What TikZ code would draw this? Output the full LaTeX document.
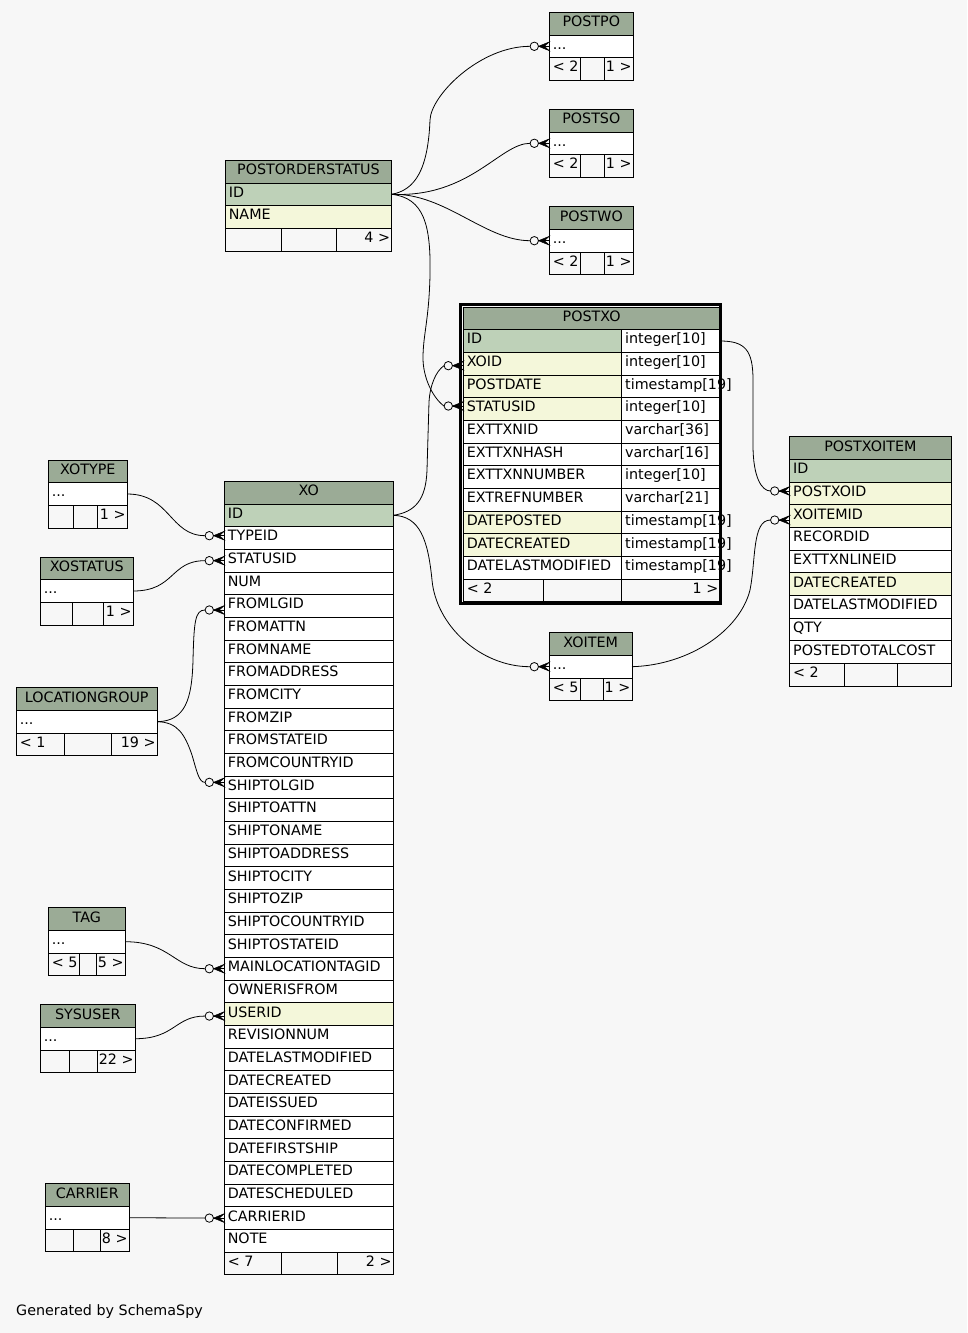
\documentclass[tikz,border=0pt]{standalone}
\usepackage{fontspec}
\setmainfont{DejaVu Sans}
\definecolor{bgc}{HTML}{F7F7F7}
\definecolor{hdrc}{HTML}{9BAB96}
\definecolor{pkc}{HTML}{BED1B8}
\definecolor{idxc}{HTML}{F4F7DA}
\def\rh{22.67}
\newcommand\thead[5]{% name L R T text
  \filldraw[cellline,fill=hdrc] (#2,#4) rectangle (#3,{#4+\rh});
  \node[hdrtext] (#1) at ({(#2+#3)/2},{#4+14.3}) {#5};
}
\newcommand\trow[7]{% name L R T0 idx fill text
  \pgfmathsetmacro\myrt{#4+#5*\rh}
  \filldraw[cellline,fill=#6] (#2,\myrt) rectangle (#3,{\myrt+\rh});
  \node[celltext] (#1) at (#2,{\myrt+14.3}) {#7};
  \coordinate (#1-w) at (#2,{\myrt+\rh/2});
  \coordinate (#1-e) at (#3,{\myrt+\rh/2});
  \coordinate (#1-c) at ({#2-19.3},{\myrt+\rh/2});
}
\newcommand\trowt[9]{% name L D R T0 idx fill col type
  \pgfmathsetmacro\myrt{#5+#6*\rh}
  \filldraw[cellline,fill=#7] (#2,\myrt) rectangle (#3,{\myrt+\rh});
  \filldraw[cellline,fill=white] (#3,\myrt) rectangle (#4,{\myrt+\rh});
  \node[celltext] (#1) at (#2,{\myrt+14.3}) {#8};
  \node[celltext] (#1-t) at (#3,{\myrt+14.3}) {#9};
  \coordinate (#1-w) at (#2,{\myrt+\rh/2});
  \coordinate (#1-e) at (#4,{\myrt+\rh/2});
  \coordinate (#1-c) at ({#2-19.3},{\myrt+\rh/2});
}
\newcommand\tfoot[9]{% name L R T0 idx d1 d2 ltext rtext
  \pgfmathsetmacro\myrt{#4+#5*\rh}
  \filldraw[cellline,fill=bgc] (#2,\myrt) rectangle (#3,{\myrt+\rh});
  \draw[cellline] (#6,\myrt) -- (#6,{\myrt+\rh}) (#7,\myrt) -- (#7,{\myrt+\rh});
  \node[celltext] (#1-l) at (#2,{\myrt+14.3}) {#8};
  \node[celltextr] (#1-r) at (#3,{\myrt+14.3}) {#9};
}
\tikzset{
  cellline/.style={draw=black,line width=0.9pt},
  hdrtext/.style={anchor=base,inner sep=0pt},
  celltext/.style={anchor=base west,inner sep=0pt,xshift=3.3pt},
  celltextr/.style={anchor=base east,inner sep=0pt,xshift=-1.5pt},
  rel/.style={draw=black,line width=0.8pt},
  crowodot/.pic={
    \draw[rel] (-15,0) circle[radius=4.2];
    \filldraw[rel,line width=0.5pt] (-10.8,0) -- (0,-4.4) -- (-5,0) -- (0,4.4) -- cycle;
    \draw[rel] (-10.8,0) -- (0,0);
  }
}
\begin{document}
\begin{tikzpicture}[x=1pt,y=-1pt,font=\fontsize{14.3}{17}\selectfont]
\fill[bgc] (0,0) rectangle (967,1333);
\useasboundingbox (0,0) rectangle (967,1333);

% POSTPO
\thead{postpo}{549.3}{633.3}{12.3}{POSTPO}
\trow{postpo-r}{549.3}{633.3}{12.3}{1}{white}{...}
\tfoot{postpo-f}{549.3}{633.3}{12.3}{2}{580}{604}{< 2}{1 >}
% POSTSO
\thead{postso}{549.3}{633.3}{109.3}{POSTSO}
\trow{postso-r}{549.3}{633.3}{109.3}{1}{white}{...}
\tfoot{postso-f}{549.3}{633.3}{109.3}{2}{580}{604}{< 2}{1 >}
% POSTWO
\thead{postwo}{549.3}{633.3}{206.7}{POSTWO}
\trow{postwo-r}{549.3}{633.3}{206.7}{1}{white}{...}
\tfoot{postwo-f}{549.3}{633.3}{206.7}{2}{580}{604}{< 2}{1 >}
% POSTORDERSTATUS
\thead{pos}{225.3}{391.7}{160.3}{POSTORDERSTATUS}
\trow{pos-id}{225.3}{391.7}{160.3}{1}{pkc}{ID}
\trow{pos-name}{225.3}{391.7}{160.3}{2}{idxc}{NAME}
\tfoot{pos-f}{225.3}{391.7}{160.3}{3}{281.7}{336}{}{4 >}
% XOITEM
\thead{xoitem}{549.3}{632}{632.7}{XOITEM}
\trow{xoitem-r}{549.3}{632}{632.7}{1}{white}{...}
\tfoot{xoitem-f}{549.3}{632}{632.7}{2}{580}{603}{< 5}{1 >}
% POSTXOITEM
\thead{pxi}{789.7}{951}{436.7}{POSTXOITEM}
\trow{pxi-id}{789.7}{951}{436.7}{1}{pkc}{ID}
\trow{pxi-postxoid}{789.7}{951}{436.7}{2}{idxc}{POSTXOID}
\trow{pxi-xoitemid}{789.7}{951}{436.7}{3}{idxc}{XOITEMID}
\trow{pxi-recordid}{789.7}{951}{436.7}{4}{white}{RECORDID}
\trow{pxi-exttxnlineid}{789.7}{951}{436.7}{5}{white}{EXTTXNLINEID}
\trow{pxi-datecreated}{789.7}{951}{436.7}{6}{idxc}{DATECREATED}
\trow{pxi-datelastmodified}{789.7}{951}{436.7}{7}{white}{DATELASTMODIFIED}
\trow{pxi-qty}{789.7}{951}{436.7}{8}{white}{QTY}
\trow{pxi-postedtotalcost}{789.7}{951}{436.7}{9}{white}{POSTEDTOTALCOST}
\tfoot{pxi-f}{789.7}{951}{436.7}{10}{844}{897.7}{< 2}{}
% XO
\thead{xo}{224.3}{393.3}{481.3}{XO}
\trow{xo-id}{224.3}{393.3}{481.3}{1}{pkc}{ID}
\trow{xo-typeid}{224.3}{393.3}{481.3}{2}{white}{TYPEID}
\trow{xo-statusid}{224.3}{393.3}{481.3}{3}{white}{STATUSID}
\trow{xo-num}{224.3}{393.3}{481.3}{4}{white}{NUM}
\trow{xo-fromlgid}{224.3}{393.3}{481.3}{5}{white}{FROMLGID}
\trow{xo-fromattn}{224.3}{393.3}{481.3}{6}{white}{FROMATTN}
\trow{xo-fromname}{224.3}{393.3}{481.3}{7}{white}{FROMNAME}
\trow{xo-fromaddress}{224.3}{393.3}{481.3}{8}{white}{FROMADDRESS}
\trow{xo-fromcity}{224.3}{393.3}{481.3}{9}{white}{FROMCITY}
\trow{xo-fromzip}{224.3}{393.3}{481.3}{10}{white}{FROMZIP}
\trow{xo-fromstateid}{224.3}{393.3}{481.3}{11}{white}{FROMSTATEID}
\trow{xo-fromcountryid}{224.3}{393.3}{481.3}{12}{white}{FROMCOUNTRYID}
\trow{xo-shiptolgid}{224.3}{393.3}{481.3}{13}{white}{SHIPTOLGID}
\trow{xo-shiptoattn}{224.3}{393.3}{481.3}{14}{white}{SHIPTOATTN}
\trow{xo-shiptoname}{224.3}{393.3}{481.3}{15}{white}{SHIPTONAME}
\trow{xo-shiptoaddress}{224.3}{393.3}{481.3}{16}{white}{SHIPTOADDRESS}
\trow{xo-shiptocity}{224.3}{393.3}{481.3}{17}{white}{SHIPTOCITY}
\trow{xo-shiptozip}{224.3}{393.3}{481.3}{18}{white}{SHIPTOZIP}
\trow{xo-shiptocountryid}{224.3}{393.3}{481.3}{19}{white}{SHIPTOCOUNTRYID}
\trow{xo-shiptostateid}{224.3}{393.3}{481.3}{20}{white}{SHIPTOSTATEID}
\trow{xo-mainlocationtagid}{224.3}{393.3}{481.3}{21}{white}{MAINLOCATIONTAGID}
\trow{xo-ownerisfrom}{224.3}{393.3}{481.3}{22}{white}{OWNERISFROM}
\trow{xo-userid}{224.3}{393.3}{481.3}{23}{idxc}{USERID}
\trow{xo-revisionnum}{224.3}{393.3}{481.3}{24}{white}{REVISIONNUM}
\trow{xo-datelastmodified}{224.3}{393.3}{481.3}{25}{white}{DATELASTMODIFIED}
\trow{xo-datecreated}{224.3}{393.3}{481.3}{26}{white}{DATECREATED}
\trow{xo-dateissued}{224.3}{393.3}{481.3}{27}{white}{DATEISSUED}
\trow{xo-dateconfirmed}{224.3}{393.3}{481.3}{28}{white}{DATECONFIRMED}
\trow{xo-datefirstship}{224.3}{393.3}{481.3}{29}{white}{DATEFIRSTSHIP}
\trow{xo-datecompleted}{224.3}{393.3}{481.3}{30}{white}{DATECOMPLETED}
\trow{xo-datescheduled}{224.3}{393.3}{481.3}{31}{white}{DATESCHEDULED}
\trow{xo-carrierid}{224.3}{393.3}{481.3}{32}{white}{CARRIERID}
\trow{xo-note}{224.3}{393.3}{481.3}{33}{white}{NOTE}
\tfoot{xo-f}{224.3}{393.3}{481.3}{34}{281.7}{337.7}{< 7}{2 >}
% left tables
\thead{xotype}{48.3}{127.3}{460}{XOTYPE}
\trow{xotype-r}{48.3}{127.3}{460}{1}{white}{...}
\tfoot{xotype-f}{48.3}{127.3}{460}{2}{73.3}{97.3}{}{1 >}
\thead{xostatus}{40.3}{133.3}{557}{XOSTATUS}
\trow{xostatus-r}{40.3}{133.3}{557}{1}{white}{...}
\tfoot{xostatus-f}{40.3}{133.3}{557}{2}{72.3}{103.3}{}{1 >}
\thead{lg}{16.3}{157.3}{687.7}{LOCATIONGROUP}
\trow{lg-r}{16.3}{157.3}{687.7}{1}{white}{...}
\tfoot{lg-f}{16.3}{157.3}{687.7}{2}{64.3}{111.3}{< 1}{19 >}
\thead{tag}{48.3}{125.3}{907.7}{TAG}
\trow{tag-r}{48.3}{125.3}{907.7}{1}{white}{...}
\tfoot{tag-f}{48.3}{125.3}{907.7}{2}{79.3}{96.7}{< 5}{5 >}
\thead{sysuser}{40.3}{135.3}{1004.7}{SYSUSER}
\trow{sysuser-r}{40.3}{135.3}{1004.7}{1}{white}{...}
\tfoot{sysuser-f}{40.3}{135.3}{1004.7}{2}{69.3}{97.3}{}{22 >}
\thead{carrier}{45.3}{129.3}{1183.7}{CARRIER}
\trow{carrier-r}{45.3}{129.3}{1183.7}{1}{white}{...}
\tfoot{carrier-f}{45.3}{129.3}{1183.7}{2}{73.3}{100.3}{}{8 >}
% POSTXO (focused table)
\thead{postxo}{463.3}{720}{307}{POSTXO}
\trowt{postxo-id}{463.3}{621.7}{720}{307}{1}{pkc}{ID}{integer[10]}
\trowt{postxo-xoid}{463.3}{621.7}{720}{307}{2}{idxc}{XOID}{integer[10]}
\trowt{postxo-postdate}{463.3}{621.7}{720}{307}{3}{idxc}{POSTDATE}{timestamp[19]}
\trowt{postxo-statusid}{463.3}{621.7}{720}{307}{4}{idxc}{STATUSID}{integer[10]}
\trowt{postxo-exttxnid}{463.3}{621.7}{720}{307}{5}{white}{EXTTXNID}{varchar[36]}
\trowt{postxo-exttxnhash}{463.3}{621.7}{720}{307}{6}{white}{EXTTXNHASH}{varchar[16]}
\trowt{postxo-exttxnnumber}{463.3}{621.7}{720}{307}{7}{white}{EXTTXNNUMBER}{integer[10]}
\trowt{postxo-extrefnumber}{463.3}{621.7}{720}{307}{8}{white}{EXTREFNUMBER}{varchar[21]}
\trowt{postxo-dateposted}{463.3}{621.7}{720}{307}{9}{idxc}{DATEPOSTED}{timestamp[19]}
\trowt{postxo-datecreated}{463.3}{621.7}{720}{307}{10}{idxc}{DATECREATED}{timestamp[19]}
\trowt{postxo-datelastmodified}{463.3}{621.7}{720}{307}{11}{white}{DATELASTMODIFIED}{timestamp[19]}
\tfoot{postxo-f}{463.3}{720}{307}{12}{543}{621.7}{< 2}{1 >}
\draw[line width=3pt] (460.7,304.5) rectangle (720.8,603.5);

% relationships
\draw[rel] (pos-id-e) .. controls (415,190) and (428,170) .. (430,120) .. controls (431,95) and (480,46.3) .. (postpo-r-c);
\draw[rel] (pos-id-e) .. controls (470,198) and (500,143.3) .. (postso-r-c);
\draw[rel] (pos-id-e) .. controls (445,193) and (485,240.7) .. (postwo-r-c);
\draw[rel] (pos-id-e) .. controls (424,198) and (431,225) .. (430,275) .. controls (429,320) and (423,335) .. (423,358) .. controls (423,378) and (433,398) .. ([yshift=3pt]postxo-statusid-c);
\draw[rel] (xo-id-e) .. controls (415,512) and (426,500) .. (427,470) -- (429,402) .. controls (430,385) and (436,371) .. ([yshift=-2pt]postxo-xoid-c);
\draw[rel] (xo-id-e) .. controls (420,516) and (428,540) .. (432,580) .. controls (436,625) and (480,666.7) .. (xoitem-r-c);
\draw[rel] (postxo-id-e) .. controls (745,341) and (753,350) .. (753,380) -- (753,445) .. controls (753,478) and (762,491) .. ([yshift=2.4pt]pxi-postxoid-c);
\draw[rel] (xoitem-r-e) .. controls (690,665) and (740,630) .. (750,590) .. controls (756,560) and (752,520) .. ([yshift=-4pt]pxi-xoitemid-c);
\draw[rel] (xotype-r-e) .. controls (170,494) and (170,535.7) .. ([yshift=2.3pt]xo-typeid-c);
\draw[rel] (xostatus-r-e) .. controls (175,591) and (170,560.7) .. (xo-statusid-c);
\draw[rel] (lg-r-e) .. controls (185,721) and (192,700) .. (193,660) .. controls (194,622) and (195,610) .. ([yshift=-4pt]xo-fromlgid-c);
\draw[rel] (lg-r-e) .. controls (178,722) and (185,735) .. (192,755) .. controls (197,772) and (199,782.4) .. ([yshift=5pt]xo-shiptolgid-c);
\draw[rel] (tag-r-e) .. controls (170,941.7) and (175,968.7) .. (xo-mainlocationtagid-c);
\draw[rel] (sysuser-r-e) .. controls (175,1038.7) and (175,1016) .. ([yshift=-2pt]xo-userid-c);
\draw[rel] (carrier-r-e) -- (xo-carrierid-c);

% crow's foot with open circle at the child ends
\pic at (postpo-r-w) {crowodot};
\pic at (postso-r-w) {crowodot};
\pic at (postwo-r-w) {crowodot};
\pic at ([yshift=3pt]postxo-statusid-w) {crowodot};
\pic at ([yshift=-2pt]postxo-xoid-w) {crowodot};
\pic at (xoitem-r-w) {crowodot};
\pic at ([yshift=2.4pt]pxi-postxoid-w) {crowodot};
\pic at ([yshift=-4pt]pxi-xoitemid-w) {crowodot};
\pic at ([yshift=2.3pt]xo-typeid-w) {crowodot};
\pic at (xo-statusid-w) {crowodot};
\pic at ([yshift=-4pt]xo-fromlgid-w) {crowodot};
\pic at ([yshift=5pt]xo-shiptolgid-w) {crowodot};
\pic at (xo-mainlocationtagid-w) {crowodot};
\pic at ([yshift=-2pt]xo-userid-w) {crowodot};
\pic at (xo-carrierid-w) {crowodot};

\node[anchor=base west,inner sep=0pt] (gen) at (16,1315) {Generated by SchemaSpy};
\end{tikzpicture}
\end{document}
